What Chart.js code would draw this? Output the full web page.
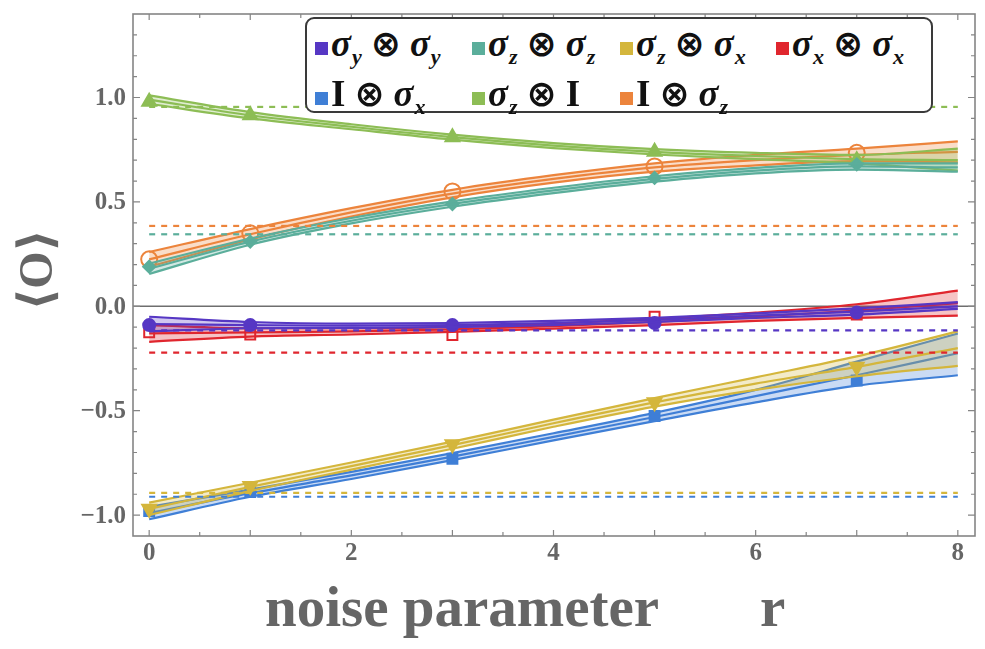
<!DOCTYPE html>
<html>
<head>
<meta charset="utf-8">
<script src="https://cdn.jsdelivr.net/npm/chart.js@4.4.0/dist/chart.umd.min.js"></script>
<style>
  body { margin: 0; background: #fff; }
  #wrap { position: relative; width: 985px; height: 649px; }
  #legend {
    position: absolute; left: 305px; top: 17px; width: 628px; height: 96px;
    border: 2px solid #3a3a3a; border-radius: 9px; background: #fff; box-sizing: border-box;
    font-family: "Liberation Serif", "DejaVu Serif", serif; color: #111;
  }
  .item { position: absolute; font-size: 37px; line-height: 36px; white-space: nowrap; }
  .item i { font-weight: bold; }
  .item sub { font-size: 22px; font-style: italic; font-weight: bold; vertical-align: -8px; margin-left: 1px; }
  .item b.op { font-family: "DejaVu Sans", sans-serif; font-size: 36px; margin: 0 9px; }
  .sw { display: inline-block; width: 13px; height: 13px; margin-right: 3px; vertical-align: 1px; }
</style>
</head>
<body>
<div id="wrap">
  <canvas id="myChart" width="985" height="649"></canvas>
  <div id="legend"></div>
</div>
<script>
// x positions of the fitted curves and of the measured points
var xGrid = [0, 1, 2, 3, 4, 5, 6, 7, 8];
var markerX = [0, 1, 3, 5, 7];

// sigma_y (x) sigma_y
var syyMid = [-0.085, -0.09, -0.093, -0.09, -0.08, -0.065, -0.045, -0.025, 0.0];
var syyHi  = [-0.05, -0.075, -0.083, -0.08, -0.07, -0.055, -0.034, -0.01, 0.02];
var syyLo  = [-0.12, -0.105, -0.103, -0.10, -0.09, -0.075, -0.056, -0.04, -0.012];
var syyPts = [-0.09, -0.09, -0.09, -0.08, -0.03];

// sigma_z (x) sigma_z
var szzMid = [0.18, 0.31, 0.41, 0.49, 0.555, 0.61, 0.65, 0.67, 0.665];
var szzHi  = [0.205, 0.325, 0.423, 0.503, 0.568, 0.623, 0.663, 0.685, 0.685];
var szzLo  = [0.155, 0.295, 0.397, 0.477, 0.542, 0.597, 0.637, 0.655, 0.645];
var szzPts = [0.19, 0.31, 0.49, 0.615, 0.68];

// sigma_z (x) sigma_x
var szxMid = [-0.97, -0.865, -0.765, -0.665, -0.56, -0.46, -0.37, -0.29, -0.20];
var szxHi  = [-0.94, -0.845, -0.748, -0.648, -0.543, -0.44, -0.34, -0.24, -0.12];
var szxLo  = [-1.0, -0.885, -0.782, -0.682, -0.577, -0.48, -0.40, -0.335, -0.285];
var szxPts = [-0.97, -0.86, -0.66, -0.46, -0.29];

// sigma_x (x) sigma_x
var sxxMid = [-0.13, -0.125, -0.12, -0.11, -0.095, -0.075, -0.05, -0.02, 0.015];
var sxxHi  = [-0.09, -0.105, -0.105, -0.098, -0.083, -0.06, -0.03, 0.01, 0.075];
var sxxLo  = [-0.17, -0.145, -0.135, -0.122, -0.107, -0.09, -0.07, -0.055, -0.045];
var sxxPts = [-0.125, -0.135, -0.137, -0.05, -0.04];

// I (x) sigma_x
var ixMid = [-0.99, -0.895, -0.81, -0.72, -0.625, -0.53, -0.43, -0.33, -0.225];
var ixHi  = [-0.96, -0.878, -0.793, -0.703, -0.608, -0.51, -0.40, -0.265, -0.13];
var ixLo  = [-1.02, -0.912, -0.827, -0.737, -0.642, -0.55, -0.46, -0.38, -0.33];
var ixPts = [-0.98, -0.89, -0.73, -0.525, -0.355];

// sigma_z (x) I
var ziMid = [0.99, 0.915, 0.86, 0.81, 0.77, 0.74, 0.72, 0.705, 0.70];
var ziHi  = [1.01, 0.93, 0.872, 0.822, 0.782, 0.753, 0.735, 0.725, 0.755];
var ziLo  = [0.97, 0.90, 0.848, 0.798, 0.758, 0.727, 0.705, 0.685, 0.65];
var ziPts = [0.98, 0.915, 0.81, 0.74, 0.70];

// I (x) sigma_z
var izMid = [0.225, 0.345, 0.45, 0.54, 0.61, 0.665, 0.70, 0.725, 0.74];
var izHi  = [0.26, 0.37, 0.47, 0.558, 0.628, 0.685, 0.725, 0.755, 0.79];
var izLo  = [0.19, 0.32, 0.43, 0.522, 0.592, 0.645, 0.675, 0.695, 0.69];
var izPts = [0.225, 0.35, 0.55, 0.67, 0.735];

// dashed reference levels
var levelNames  = ['zi', 'iz', 'szz', 'syy', 'sxx', 'szx', 'ix'];
var levelValues = [0.955, 0.385, 0.345, -0.115, -0.222, -0.893, -0.912];

var xTicks = [0, 2, 4, 6, 8];
var xTickLabels = ['0', '2', '4', '6', '8'];
var yTicks = [-1, -0.5, 0, 0.5, 1];
var yTickLabels = ['\u22121.0', '\u22120.5', '0.0', '0.5', '1.0'];

var series = [
  { key: 'syy', label: ['\u03c3', 'y', '\u03c3', 'y'], color: '#5637c4', mid: syyMid, hi: syyHi, lo: syyLo, pts: syyPts, shape: 'circle', rot: 0, open: false, r: 6 },
  { key: 'szz', label: ['\u03c3', 'z', '\u03c3', 'z'], color: '#5bae9b', mid: szzMid, hi: szzHi, lo: szzLo, pts: szzPts, shape: 'rectRot', rot: 0, open: false, r: 6 },
  { key: 'szx', label: ['\u03c3', 'z', '\u03c3', 'x'], color: '#d4b63c', mid: szxMid, hi: szxHi, lo: szxLo, pts: szxPts, shape: 'triangle', rot: 180, open: false, r: 8 },
  { key: 'sxx', label: ['\u03c3', 'x', '\u03c3', 'x'], color: '#e0262e', mid: sxxMid, hi: sxxHi, lo: sxxLo, pts: sxxPts, shape: 'rect', rot: 0, open: true, r: 7 },
  { key: 'ix',  label: ['I', '', '\u03c3', 'x'], color: '#3f7fd6', mid: ixMid, hi: ixHi, lo: ixLo, pts: ixPts, shape: 'rect', rot: 0, open: false, r: 7 },
  { key: 'zi',  label: ['\u03c3', 'z', 'I', ''], color: '#8dbd55', mid: ziMid, hi: ziHi, lo: ziLo, pts: ziPts, shape: 'triangle', rot: 0, open: false, r: 8 },
  { key: 'iz',  label: ['I', '', '\u03c3', 'z'], color: '#ec843c', mid: izMid, hi: izHi, lo: izLo, pts: izPts, shape: 'circle', rot: 0, open: true, r: 8 }
];

function toPoints(xs, ys) {
  return xs.map(function (x, i) { return { x: x, y: ys[i] }; });
}

function hexA(hex, a) {
  var n = parseInt(hex.slice(1), 16);
  return 'rgba(' + (n >> 16) + ',' + ((n >> 8) & 255) + ',' + (n & 255) + ',' + a + ')';
}

var datasets = [];

// dashed levels go underneath everything
levelNames.forEach(function (k, i) {
  var s = series.find(function (d) { return d.key === k; });
  datasets.push({
    data: [{ x: 0, y: levelValues[i] }, { x: 8, y: levelValues[i] }],
    borderColor: s.color, borderWidth: 2.2, borderDash: [6, 6],
    pointRadius: 0, fill: false
  });
});

series.forEach(function (s) {
  var line = { borderColor: s.color, borderWidth: 2.2, pointRadius: 0, cubicInterpolationMode: 'monotone' };
  datasets.push(Object.assign({ data: toPoints(xGrid, s.lo), fill: false }, line));
  datasets.push(Object.assign({ data: toPoints(xGrid, s.hi), fill: '-1', backgroundColor: hexA(s.color, 0.28) }, line));
  datasets.push(Object.assign({ data: toPoints(xGrid, s.mid), fill: false }, line));
  datasets.push({
    data: toPoints(markerX, s.pts), showLine: false,
    pointStyle: s.shape, pointRotation: s.rot, pointRadius: s.r,
    pointBorderWidth: 2, pointBorderColor: s.color,
    pointBackgroundColor: s.open ? 'rgba(255,255,255,0.35)' : s.color
  });
});

// build legend (html so that subscripts render)
var legendPos = [[8, 28], [165, 28], [313, 28], [469, 28], [8, 78], [165, 78], [313, 78]];
var legendEl = document.getElementById('legend');
series.forEach(function (s, i) {
  function term(sym, sub) {
    if (sym === 'I') return '<b>I</b>';
    return '<i>' + sym + '</i><sub>' + sub + '</sub>';
  }
  var div = document.createElement('div');
  div.className = 'item';
  div.style.left = legendPos[i][0] + 'px';
  div.style.top = (legendPos[i][1] - 21) + 'px';
  div.innerHTML = '<span class="sw" style="background:' + s.color + '"></span>' +
    term(s.label[0], s.label[1]) + '<b class="op">\u2297</b>' + term(s.label[2], s.label[3]);
  legendEl.appendChild(div);
});

var serifBold = '"Liberation Serif", "DejaVu Serif", serif';

var framePlugin = {
  id: 'frame',
  beforeDatasetsDraw: function (chart) {
    var ctx = chart.ctx, a = chart.chartArea, y = chart.scales.y;
    var y0 = y.getPixelForValue(0);
    ctx.save();
    ctx.strokeStyle = '#6e6e6e';
    ctx.lineWidth = 1.4;
    ctx.beginPath();
    ctx.moveTo(a.left, y0);
    ctx.lineTo(a.right, y0);
    ctx.stroke();
    ctx.restore();
  },
  afterDraw: function (chart) {
    var ctx = chart.ctx, a = chart.chartArea, xs = chart.scales.x, ys = chart.scales.y;
    ctx.save();
    ctx.strokeStyle = '#858585';
    ctx.lineWidth = 1.6;
    ctx.strokeRect(a.left, a.top, a.right - a.left, a.bottom - a.top);
    ctx.lineWidth = 1.2;
    ctx.beginPath();
    for (var k = 0; k <= 16; k++) {
      var px = xs.getPixelForValue(k / 2);
      var len = (k % 2 === 0) ? 6 : 4;
      ctx.moveTo(px, a.bottom); ctx.lineTo(px, a.bottom - len);
      ctx.moveTo(px, a.top); ctx.lineTo(px, a.top + len);
    }
    for (var j = -10; j <= 13; j++) {
      var py = ys.getPixelForValue(j / 10);
      var l2 = (j % 5 === 0) ? 7 : 4;
      ctx.moveTo(a.left, py); ctx.lineTo(a.left + l2, py);
      ctx.moveTo(a.right, py); ctx.lineTo(a.right - l2, py);
    }
    ctx.stroke();

    // tick labels, placed through the scales
    ctx.fillStyle = '#666';
    ctx.font = 'bold 25px ' + serifBold;
    ctx.textAlign = 'right';
    ctx.textBaseline = 'middle';
    yTicks.forEach(function (v, i) {
      ctx.fillText(yTickLabels[i], a.left - 7, ys.getPixelForValue(v) + 1);
    });
    ctx.textAlign = 'center';
    ctx.textBaseline = 'top';
    xTicks.forEach(function (v, i) {
      ctx.fillText(xTickLabels[i], xs.getPixelForValue(v), a.bottom + 5);
    });

    // axis titles
    ctx.font = 'bold 57px ' + serifBold;
    ctx.textBaseline = 'alphabetic';
    ctx.textAlign = 'left';
    ctx.fillText('noise parameter', 265, 626);
    ctx.fillText('r', 760, 626);

    ctx.translate(52, 270);
    ctx.rotate(-Math.PI / 2);
    ctx.textAlign = 'center';
    ctx.font = 'bold 48px ' + serifBold;
    ctx.fillText('\u27e8O\u27e9', 0, 0);
    ctx.restore();
  }
};

var myChart = new Chart(document.getElementById('myChart'), {
  type: 'line',
  data: { datasets: datasets },
  options: {
    responsive: false,
    animation: false,
    layout: { padding: { top: 14, right: 10, left: 0, bottom: 0 } },
    plugins: { legend: { display: false }, tooltip: { enabled: false } },
    scales: {
      x: {
        type: 'linear', min: -0.16, max: 8.17,
        grid: { display: false, drawTicks: false }, border: { display: false },
        afterBuildTicks: function (s) { s.ticks = xTicks.map(function (v) { return { value: v }; }); },
        afterFit: function (s) { s.height = 113; },
        ticks: { display: false }
      },
      y: {
        type: 'linear', min: -1.1, max: 1.4,
        grid: { display: false, drawTicks: false }, border: { display: false },
        afterBuildTicks: function (s) { s.ticks = yTicks.map(function (v) { return { value: v }; }); },
        afterFit: function (s) { s.width = 133; },
        ticks: { display: false }
      }
    }
  },
  plugins: [framePlugin]
});
</script>
</body>
</html>
